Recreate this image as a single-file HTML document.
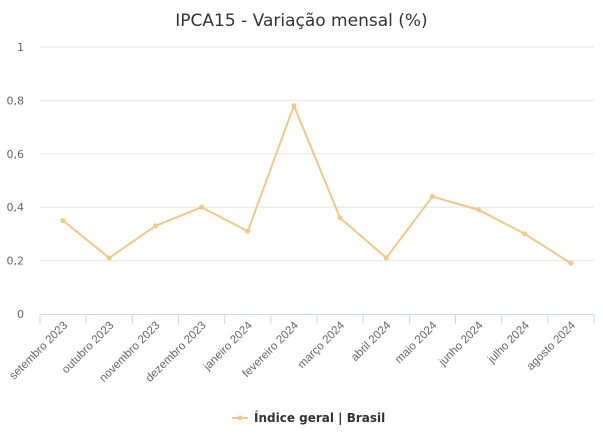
<!DOCTYPE html>
<html><head><meta charset="utf-8"><style>
body{margin:0;background:#fff;width:603px;height:431px;overflow:hidden;font-family:"DejaVu Sans","Liberation Sans",sans-serif}
</style></head><body>
<svg id="c" width="603" height="431" xmlns="http://www.w3.org/2000/svg"></svg>
<script>
const categories=["setembro 2023","outubro 2023","novembro 2023","dezembro 2023","janeiro 2024","fevereiro 2024","março 2024","abril 2024","maio 2024","junho 2024","julho 2024","agosto 2024"];
const values=[0.35,0.21,0.33,0.40,0.31,0.78,0.36,0.21,0.44,0.39,0.30,0.19];
const yTicks=[0,0.2,0.4,0.6,0.8,1];
const yTickLabels=["0","0,2","0,4","0,6","0,8","1"];
const svg=document.getElementById('c');const NS="http://www.w3.org/2000/svg";
const L=40,R=594,T=47,B=314;
const bw=(R-L)/categories.length;
const x=i=>L+bw*(i+0.5);
const y=v=>B-(v/1)*(B-T);
function mk(t,a,txt){const e=document.createElementNS(NS,t);for(const k in a)e.setAttribute(k,a[k]);if(txt!=null)e.textContent=txt;svg.appendChild(e);return e;}
let t=mk('text',{x:301.5,y:26,'text-anchor':'middle','font-size':17,fill:'#333'},'IPCA15 - Variação mensal (%)');


yTicks.forEach((v,i)=>{
 if(v>0){const g=mk('line',{x1:L,x2:R,y1:y(v),y2:y(v),stroke:'#e6e6e6','stroke-width':1});
 
 }
 const l=mk('text',{x:24,y:y(v)+4,'text-anchor':'end','font-size':11,fill:'#666'},yTickLabels[i]);
 
 
});
const ax=mk('line',{x1:L,x2:R,y1:B+0.5,y2:B+0.5,stroke:'#ccd6eb','stroke-width':1});


for(let i=0;i<=categories.length;i++){const tk=mk('line',{x1:L+bw*i,x2:L+bw*i,y1:B,y2:B+10,stroke:'#ccd6eb'});
 
 }
categories.forEach((c,i)=>{const px=x(i)+5,py=B+12;
 const l=mk('text',{x:px,y:py,'text-anchor':'end','font-size':11.5,'font-family':'Liberation Sans, sans-serif',fill:'#666',transform:`rotate(-45 ${px} ${py})`},c);
 
 });
const p=mk('path',{d:values.map((v,i)=>(i?'L':'M')+x(i)+' '+y(v)).join(' '),fill:'none',stroke:'#f0c889','stroke-width':2});


values.forEach((v,i)=>{const m=mk('circle',{cx:x(i),cy:y(v),r:2.5,fill:'#f0c889'});
 
 });
const lg=mk('line',{x1:232,x2:248,y1:418,y2:418,stroke:'#f0c889','stroke-width':2});


const lc=mk('circle',{cx:240,cy:418,r:2.5,fill:'#f0c889'});


const lt=mk('text',{x:254,y:422,'font-size':12,'font-weight':'bold',fill:'#333'},'Índice geral | Brasil');


</script></body></html>
